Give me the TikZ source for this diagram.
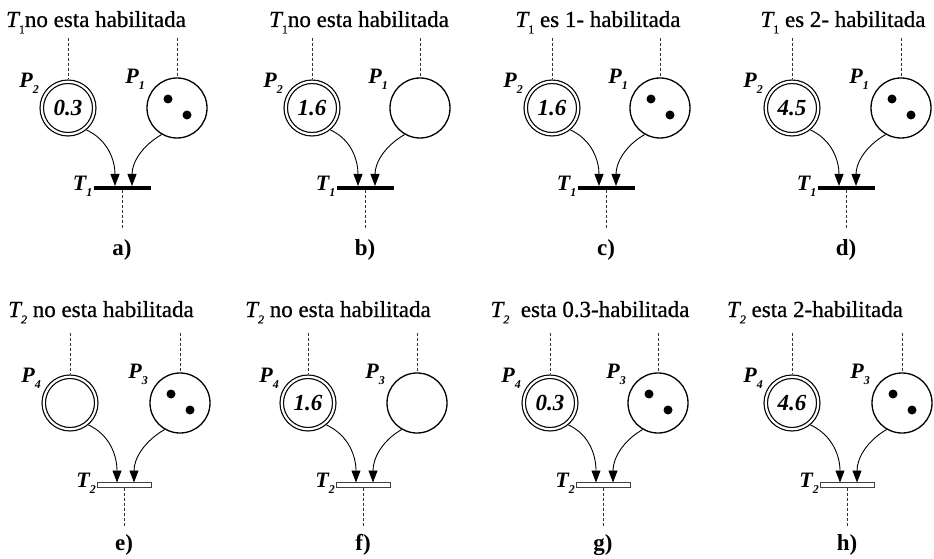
\documentclass[tikz,border=0pt]{standalone}
\usepackage{fontspec}
\setmainfont{Liberation Serif}
\newfontfamily\ttlfont[FakeBold=0.7]{Liberation Serif}
\usetikzlibrary{arrows.meta,calc}
\newcommand\sbs[1]{\raisebox{-0.28em}{\fontsize{12}{12}\selectfont #1}}
\tikzset{
  dplace/.style={circle,draw,line width=1.2pt,double,double distance=2.2pt,minimum size=52.5pt,inner sep=0pt,outer sep=2.3pt,font=\fontsize{23}{23}\selectfont\bfseries\itshape},
  splace/.style={circle,draw,line width=1.3pt,minimum size=60pt,inner sep=0pt,outer sep=0.6pt},
  tok/.style={circle,fill=black,minimum size=9pt,inner sep=0pt},
  tfull/.style={rectangle,fill=black,minimum width=57pt,minimum height=4pt,inner sep=0pt,outer sep=0pt},
  tempty/.style={rectangle,draw=black!75,fill=white,line width=1pt,minimum width=54pt,minimum height=5pt,inner sep=0pt,outer sep=0pt},
  conn/.style={line width=0.8pt,dash pattern=on 3pt off 2pt,black!80},
  arc/.style={line width=0.9pt,-{Triangle[length=12pt,width=9pt]}},
  plab/.style={font=\fontsize{22}{22}\selectfont\bfseries\itshape,inner sep=0pt},
  ttl/.style={font=\ttlfont\fontsize{23}{26}\selectfont,anchor=base,inner sep=0pt},
  sublab/.style={font=\fontsize{23}{24}\selectfont\bfseries,anchor=base,inner sep=0pt}
}
% #1 id, #2 xl, #3 xb, #4 xr, #5 yP, #6 yB, #7 number, #8 tokens, #9 row
\newcommand\pnet[9]{%
  \node[dplace] (#1l) at (#2,#5) {#7};
  \node[splace] (#1r) at (#4,#5) {};
  \ifnum#8=1
    \node[tok] (#1ka) at ($(#1r.center)+(-9,9)$) {};
    \node[tok] (#1kb) at ($(#1r.center)+(10,-7)$) {};
  \fi
  \ifnum#9=1
    \node[tfull] (#1t) at (#3,#6) {};
    \node[plab,anchor=east] (#1pl) at (#2-29,#5+25) {P\sbs{2}};
    \node[plab,anchor=east] (#1pr) at (#4-32,#5+29) {P\sbs{1}};
    \node[plab,anchor=east] (#1tn) at ($(#1t.west)+(-1,2)$) {T\sbs{1}};
  \else
    \node[tempty] (#1t) at (#3,#6) {};
    \node[plab,anchor=east] (#1pl) at (#2-29,#5+25) {P\sbs{4}};
    \node[plab,anchor=east] (#1pr) at (#4-32,#5+29) {P\sbs{3}};
    \node[plab,anchor=east] (#1tn) at ($(#1t.west)+(-1,2)$) {T\sbs{2}};
  \fi
  \coordinate (#1lt) at (#2,#5+70);
  \coordinate (#1rt) at (#4,#5+70);
  \coordinate (#1bt) at (#3,#6-42);
  \coordinate (#1al) at ($(#1t.north)+(-7,0)$);
  \coordinate (#1ar) at ($(#1t.north)+(10,0)$);
  \draw[conn] (#1lt) -- (#1l.north);
  \draw[conn] (#1rt) -- (#1r.north);
  \draw[conn] (#1t.south) -- (#1bt);
  \draw[arc] (#1l.-50) to[out=-25,in=90] (#1al);
  \draw[arc] (#1r.-120) to[out=-150,in=90] (#1ar);
}
\begin{document}
\begin{tikzpicture}[x=1pt,y=1pt]
\useasboundingbox (0,0) rectangle (934,558);
% row 1
\pnet{a}{68}{122}{177}{450}{370}{0.3}{1}{1}
\pnet{b}{312}{365}{420}{450}{370}{1.6}{0}{1}
\pnet{c}{552}{606}{660}{450}{370}{1.6}{1}{1}
\pnet{d}{792}{846}{901}{450}{370}{4.5}{1}{1}
% row 2
\pnet{e}{70}{124}{180}{155}{73}{}{1}{2}
\pnet{f}{308}{363}{417}{155}{73}{1.6}{0}{2}
\pnet{g}{550}{603}{658}{155}{73}{0.3}{1}{2}
\pnet{h}{792}{847}{902}{155}{73}{4.6}{1}{2}
% titles
\node[ttl] (ta) at (96,531) {{\itshape T}\sbs{1}no esta habilitada};
\node[ttl] (tb) at (359,531) {{\itshape T}\sbs{1}no esta habilitada};
\node[ttl] (tc) at (598,531) {{\itshape T}\sbs{1} es 1- habilitada};
\node[ttl] (td) at (843,531) {{\itshape T}\sbs{1} es 2- habilitada};
\node[ttl] (te) at (101,241) {{\itshape T\sbs{2}} no esta habilitada};
\node[ttl] (tf) at (338,241) {{\itshape T\sbs{2}} no esta habilitada};
\node[ttl] (tg) at (590,241) {{\itshape T\sbs{2}}\ \ esta 0.3-habilitada};
\node[ttl] (th) at (815,241) {{\itshape T\sbs{2}} esta 2-habilitada};
% panel labels
\node[sublab] (la) at (122,303) {a)};
\node[sublab] (lb) at (365,303) {b)};
\node[sublab] (lc) at (606,303) {c)};
\node[sublab] (ld) at (846,303) {d)};
\node[sublab] (le) at (124,8) {e)};
\node[sublab] (lf) at (363,8) {f)};
\node[sublab] (lg) at (603,8) {g)};
\node[sublab] (lh) at (847,8) {h)};
\end{tikzpicture}
\end{document}
